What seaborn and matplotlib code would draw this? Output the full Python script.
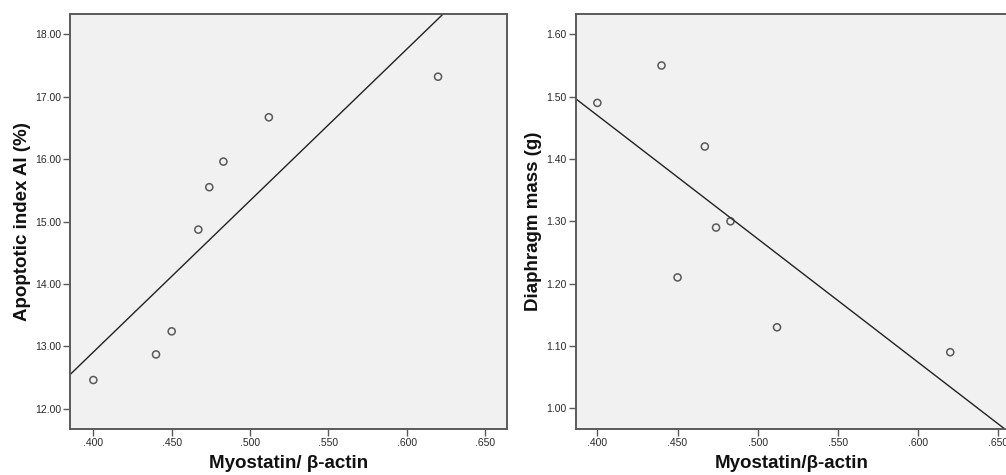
import numpy as np
import pandas as pd
import matplotlib
matplotlib.use("Agg")
import matplotlib.pyplot as plt
from matplotlib.ticker import FuncFormatter, FixedLocator
import seaborn as sns

# ---- data ----
myostatin = [0.400, 0.440, 0.450, 0.467, 0.474, 0.483, 0.512, 0.620]
apoptotic_index = [12.46, 12.87, 13.24, 14.87, 15.55, 15.96, 16.67, 17.32]
diaphragm_mass = [1.49, 1.55, 1.21, 1.42, 1.29, 1.30, 1.13, 1.09]

x_ticks = [0.400, 0.450, 0.500, 0.550, 0.600, 0.650]
y_ticks_left = [12, 13, 14, 15, 16, 17, 18]
y_ticks_right = [1.0, 1.1, 1.2, 1.3, 1.4, 1.5, 1.6]

xlabel_left = "Myostatin/ β-actin"
xlabel_right = "Myostatin/β-actin"
ylabel_left = "Apoptotic index AI (%)"
ylabel_right = "Diaphragm mass (g)"

df = pd.DataFrame({"myo": myostatin, "ai": apoptotic_index, "dm": diaphragm_mass})

sns.set_theme(style="white")
plt.rcParams["font.family"] = ["Liberation Sans", "DejaVu Sans"]

W, H = 1006, 475
fig = plt.figure(figsize=(W / 100, H / 100), dpi=100)
fig.patch.set_facecolor("white")

bg = "#F0F1F0"
spine_c = "#5a5a5a"
text_c = "#2a2a2a"

def px_axes(x0, x1, y0, y1):
    return fig.add_axes([x0 / W, 1 - y1 / H, (x1 - x0) / W, (y1 - y0) / H])

ax1 = px_axes(70, 507, 14, 428.7)
ax2 = px_axes(575.7, 1008, 14, 428.7)

def style(ax, xlim, ylim, yticks, yfmt, xlabel, ylabel, ycol):
    ax.set_facecolor(bg)
    ax.set_xlim(*xlim)
    ax.set_ylim(*ylim)
    sns.regplot(data=df, x="myo", y=ycol, ax=ax, ci=None, truncate=False,
                marker="o",
                scatter_kws=dict(s=26, facecolors="none", edgecolors="#333333",
                                 linewidths=1.1, zorder=3),
                line_kws=dict(color="#222222", lw=1.0, zorder=2))
    ax.set_xlim(*xlim)
    ax.set_ylim(*ylim)
    ax.xaxis.set_major_locator(FixedLocator(x_ticks))
    ax.yaxis.set_major_locator(FixedLocator(yticks))
    ax.xaxis.set_major_formatter(FuncFormatter(lambda v, p: f"{v:.3f}"[1:]))
    ax.yaxis.set_major_formatter(FuncFormatter(lambda v, p: yfmt.format(v)))
    for s in ax.spines.values():
        s.set_visible(True)
        s.set_color(spine_c)
        s.set_linewidth(1.4)
    ax.tick_params(axis="both", direction="out", length=5, width=1.0,
                   color=spine_c, labelsize=7.5, labelcolor=text_c, pad=1.5,
                   bottom=True, left=True, top=False, right=False)
    ax.set_xlabel(xlabel, fontsize=13.5, fontweight="bold", color="#111111", labelpad=5)
    ax.set_ylabel(ylabel, fontsize=13.5, fontweight="bold", color="#111111", labelpad=3)
    ax.grid(False)

style(ax1, (0.3851, 0.664), (11.68, 18.325), y_ticks_left, "{:.2f}",
      xlabel_left, ylabel_left, "ai")
style(ax2, (0.3865, 0.656), (0.9673, 1.6326), y_ticks_right, "{:.2f}",
      xlabel_right, ylabel_right, "dm")

fig.savefig("out.png", dpi=100, facecolor="white")
